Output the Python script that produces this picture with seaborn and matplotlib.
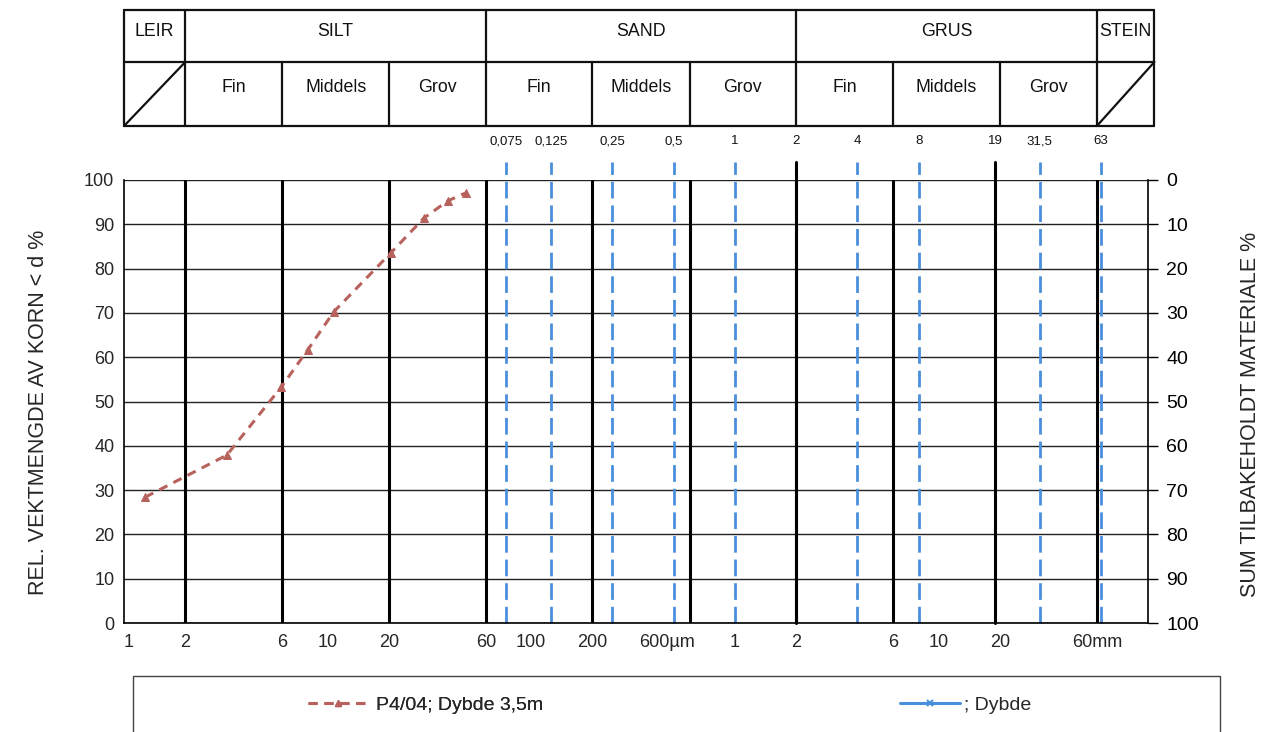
import numpy as np
import pandas as pd
import matplotlib
matplotlib.use("Agg")
import matplotlib.pyplot as plt
import seaborn as sns
from matplotlib.transforms import blended_transform_factory, ScaledTranslation
from matplotlib.lines import Line2D
from matplotlib.patches import Rectangle
from matplotlib.ticker import NullLocator

# ---------------- data ----------------
grain_um = [1.27, 3.2, 5.93, 8.0, 10.7, 20.4, 29.7, 39.0, 47.8]
passing_pct = [28.4, 37.9, 53.3, 61.7, 70.2, 83.5, 91.4, 95.3, 97.1]
series_label = "P4/04; Dybde 3,5m"
empty_label = "; Dybde"

sieve_um = [75, 125, 250, 500, 1000, 2000, 4000, 8000, 19000, 31500, 63000]
sieve_labels = ["0,075", "0,125", "0,25", "0,5", "1", "2", "4", "8", "19", "31,5", "63"]
sieve_solid_um = [2000, 19000]   # sieves drawn as solid black lines

grid_bounds_um = [2, 6, 20, 60, 200, 600, 2000, 6000, 60000]

xtick_um = [1, 2, 6, 10, 20, 60, 100, 200, 600, 1000, 2000, 6000, 10000, 20000, 60000]
xtick_labels = ["1", "2", "6", "10", "20", "60", "100", "200", "600µm",
                "1", "2", "6", "10", "20", "60mm"]
ytick_left = list(range(0, 101, 10))
ytick_right = list(range(0, 101, 10))

main_classes = ["LEIR", "SILT", "SAND", "GRUS", "STEIN"]
main_bounds_um = [1, 2, 60, 2000, 60000, 115000]
sub_classes = ["", "Fin", "Middels", "Grov", "Fin", "Middels", "Grov",
               "Fin", "Middels", "Grov", ""]
sub_bounds_um = [1, 2, 6, 20, 60, 200, 600, 2000, 6000, 20000, 60000, 115000]

left_label = "REL. VEKTMENGDE AV KORN < d %"
right_label = "SUM TILBAKEHOLDT MATERIALE %"

# ---------------- style ----------------
sns.set_style("white")
plt.rcParams["font.family"] = ["Liberation Sans", "DejaVu Sans"]

W, H = 1270, 732
fig = plt.figure(figsize=(W / 100, H / 100), dpi=100)
ax = fig.add_axes([124 / W, 109 / H, (1148 - 124) / W, 443 / H])

brown = "#b8625d"
blue = "#4a8fdc"

# horizontal grid lines
for v in ytick_left:
    ax.axhline(v, color="#222222", lw=1.0, zorder=1)

# sieve lines, extending above the plot
for s in sieve_um:
    if s in sieve_solid_um:
        ax.axvline(s, ymin=0.0, ymax=1.04, color="black", lw=2.2,
                   clip_on=False, zorder=3)
    else:
        ax.axvline(s, ymin=0.0, ymax=1.04, color=blue, lw=2.0,
                   linestyle=(0, (6, 2.5)), clip_on=False, zorder=2)

# class boundary lines (black)
for b in grid_bounds_um:
    ax.axvline(b, color="black", lw=2.2, zorder=3)

# data curve
df = pd.DataFrame({"d": grain_um, "p": passing_pct})
sns.lineplot(data=df, x="d", y="p", ax=ax, color=brown, lw=2.2,
             linestyle=(0, (3, 2.2)), marker="^", markersize=6,
             markeredgecolor=brown, sort=False, zorder=5)

ax.set_xscale("log")
ax.set_xlim(1, 1.07e5)
ax.set_ylim(0, 100)
ax.xaxis.set_minor_locator(NullLocator())
ax.set_xticks(xtick_um)
ax.set_xticklabels(xtick_labels)
ax.set_yticks(ytick_left)
ax.set_yticklabels([str(v) for v in ytick_left])
ax.tick_params(axis="x", length=0, pad=8, labelsize=13)
ax.tick_params(axis="y", length=0, pad=7, labelsize=13)
ax.set_xlabel("")
ax.set_ylabel(left_label, fontsize=15.5)
ax.yaxis.set_label_coords(-0.073, 0.476)
for sp in ["top", "right"]:
    ax.spines[sp].set_visible(False)
for sp in ["left", "bottom"]:
    ax.spines[sp].set_linewidth(1.2)
    ax.spines[sp].set_color("black")

# right axis (inverted)
ax2 = ax.twinx()
ax2.set_ylim(100, 0)
ax2.set_yticks(ytick_right)
ax2.set_yticklabels([str(v) for v in ytick_right])
ax2.tick_params(axis="y", direction="out", length=7, width=1, pad=6,
                labelsize=14, colors="black")
for sp in ["top", "left", "bottom"]:
    ax2.spines[sp].set_visible(False)
ax2.spines["right"].set_linewidth(1.2)
ax2.spines["right"].set_color("black")
ax2.set_ylabel(right_label, fontsize=15.5)
ax2.yaxis.set_label_coords(1.09, 0.47)
ax2.grid(False)

# shift a couple of x tick labels like the original
fig.canvas.draw()
for lbl in ax.get_xticklabels():
    t = lbl.get_text()
    if t == "600µm":
        lbl.set_horizontalalignment("right")
        lbl.set_transform(lbl.get_transform() + ScaledTranslation(5 / 100, 0, fig.dpi_scale_trans))
    elif t == "1" and lbl.get_position()[0] == 1:
        lbl.set_transform(lbl.get_transform() + ScaledTranslation(5 / 100, 0, fig.dpi_scale_trans))

# ---------------- header table ----------------
tr = blended_transform_factory(ax.transData, fig.transFigure)
y_top = 1 - 10 / H
y_mid = 1 - 62 / H
y_bot = 1 - 126 / H
hx0, hx1 = main_bounds_um[0], main_bounds_um[-1]
hl = dict(color="#111111", lw=1.6, transform=tr, clip_on=False)
for yy in (y_top, y_mid, y_bot):
    ax.add_line(Line2D([hx0, hx1], [yy, yy], **hl))
for b in main_bounds_um:
    ax.add_line(Line2D([b, b], [y_mid, y_top], **hl))
for b in sub_bounds_um:
    ax.add_line(Line2D([b, b], [y_bot, y_mid], **hl))
ax.add_line(Line2D([sub_bounds_um[0], sub_bounds_um[1]], [y_bot, y_mid], **hl))
ax.add_line(Line2D([sub_bounds_um[-2], sub_bounds_um[-1]], [y_bot, y_mid], **hl))

for name, a, b in zip(main_classes, main_bounds_um[:-1], main_bounds_um[1:]):
    ax.text(np.sqrt(a * b), 1 - 31 / H, name, transform=tr, ha="center",
            va="center", fontsize=12.8, color="#111111", clip_on=False)
for name, a, b in zip(sub_classes, sub_bounds_um[:-1], sub_bounds_um[1:]):
    if name:
        ax.text(np.sqrt(a * b), 1 - 87 / H, name, transform=tr, ha="center",
                va="center", fontsize=12.8, color="#111111", clip_on=False)

for s, lab in zip(sieve_um, sieve_labels):
    ax.text(s, 1 - 141 / H, lab, transform=tr, ha="center", va="center",
            fontsize=9.5, color="#111111", clip_on=False)

# ---------------- legend ----------------
fig.add_artist(Rectangle((133 / W, -0.05), (1220 - 133) / W, 0.05 + 1 - 676 / H,
                         transform=fig.transFigure, fill=False, lw=1.0,
                         edgecolor="#444444"))
h1 = Line2D([], [], color=brown, lw=2.2, linestyle=(0, (3, 2.2)), marker="^",
            markersize=5)
h2 = Line2D([], [], color=blue, lw=2.2, linestyle="-", marker="x",
            markersize=4, markeredgewidth=1.5)
leg_y = 1 - 705 / H
l1 = fig.legend(handles=[h1], labels=[series_label], loc="center left",
                bbox_to_anchor=(308 / W, leg_y), frameon=False, fontsize=14,
                handlelength=60 / 19.4, handletextpad=0.4, borderaxespad=0,
                borderpad=0)
fig.add_artist(l1)
l2 = fig.legend(handles=[h2], labels=[empty_label], loc="center left",
                bbox_to_anchor=(900 / W, leg_y), frameon=False, fontsize=14,
                handlelength=60 / 19.4, handletextpad=0.2, borderaxespad=0,
                borderpad=0)

fig.savefig("out.png", dpi=100, facecolor="white")
